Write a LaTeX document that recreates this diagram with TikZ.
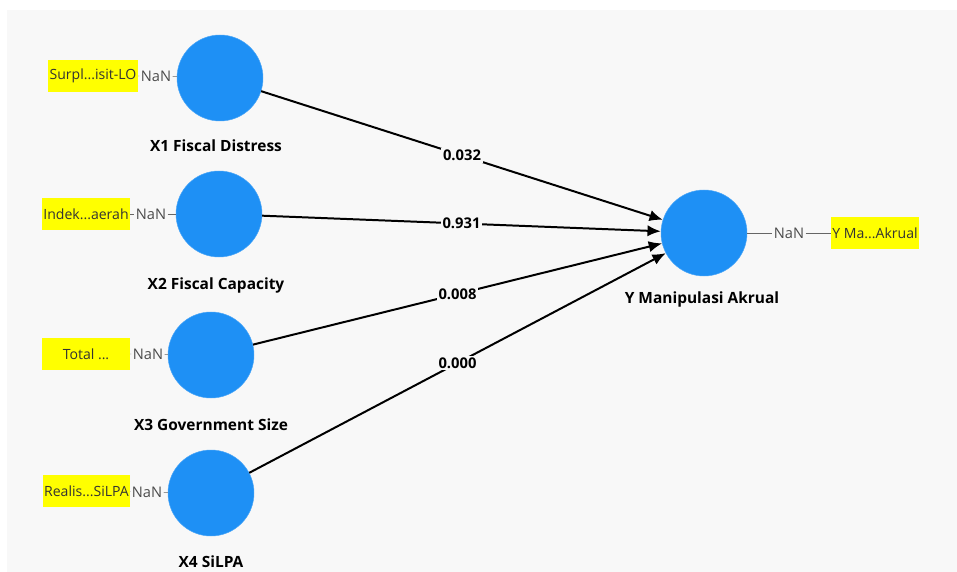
\documentclass[tikz,border=0pt]{standalone}
\usepackage{fontspec}
\setmainfont{Open Sans}
\usepackage{tikz}
\usetikzlibrary{arrows.meta, positioning, backgrounds}
\definecolor{latentblue}{HTML}{1E90F5}
\definecolor{indyellow}{HTML}{FFFF00}
\definecolor{panelgray}{HTML}{F8F8F8}

\begin{document}
\begin{tikzpicture}[x=0.03cm, y=-0.03cm,
    latent/.style={circle, fill=latentblue, draw=latentblue!80, minimum size=2.58cm, inner sep=0pt},
    caption/.style={font=\bfseries\fontsize{13.2}{15}\selectfont},
    indicator/.style={fill=indyellow, minimum height=0.97cm, inner sep=0pt, text=black!80, font=\fontsize{12}{14}\selectfont},
    nanlabel/.style={inner sep=1pt, text=black!70, font=\fontsize{12.5}{14}\selectfont},
    loading/.style={draw=black!60, thin},
    coef/.style={-{Latex[length=0.4cm, width=0.34cm]}, line width=1.7pt},
    coeflabel/.style={midway, fill=panelgray, inner sep=1.5pt, font=\bfseries\fontsize{12.6}{14}\selectfont}]
  \useasboundingbox (0,0) rectangle (957,572);
  \fill[panelgray] (7,10) rectangle (957,572);

  % Exogenous constructs
  \node[latent] (x1) at (220,78) {};
  \node[latent] (x2) at (219,214) {};
  \node[latent] (x3) at (211,355) {};
  \node[latent] (x4) at (211,493) {};
  \node[caption] (x1name) at (216,146) {X1 Fiscal Distress};
  \node[caption] (x2name) at (216,285) {X2 Fiscal Capacity};
  \node[caption] (x3name) at (211,425) {X3 Government Size};
  \node[caption] (x4name) at (211,562) {X4 SiLPA};

  % Endogenous construct
  \node[latent] (y) at (704,233) {};
  \node[caption] (yname) at (702,299) {Y Manipulasi Akrual};

  % Indicators
  \node[indicator, minimum width=2.7cm] (ind1) at (93,76) {Surpl...isit-LO};
  \node[indicator, minimum width=2.64cm] (ind2) at (86,214) {Indek...aerah};
  \node[indicator, minimum width=2.64cm] (ind3) at (86,354) {Total ...};
  \node[indicator, minimum width=2.61cm] (ind4) at (86.5,491) {Realis...SiLPA};
  \node[indicator, minimum width=2.64cm] (indy) at (875,233) {Y Ma...Akrual};

  \node[nanlabel] (nan1) at (156,76) {NaN};
  \node[nanlabel] (nan2) at (151,214) {NaN};
  \node[nanlabel] (nan3) at (148,354) {NaN};
  \node[nanlabel] (nan4) at (147,492) {NaN};
  \node[nanlabel] (nany) at (789,233) {NaN};

  \draw[loading] (ind1) -- (nan1) -- (x1);
  \draw[loading] (ind2) -- (nan2) -- (x2);
  \draw[loading] (ind3) -- (nan3) -- (x3);
  \draw[loading] (ind4) -- (nan4) -- (x4);
  \draw[loading] (y) -- (nany) -- (indy);

  % Path coefficients
  \draw[coef] (x1) -- (y) node[coeflabel] {0.032};
  \draw[coef] (x2) -- (y) node[coeflabel] {0.931};
  \draw[coef] (x3) -- (y) node[coeflabel] {0.008};
  \draw[coef] (x4) -- (y) node[coeflabel] {0.000};
\end{tikzpicture}
\end{document}
